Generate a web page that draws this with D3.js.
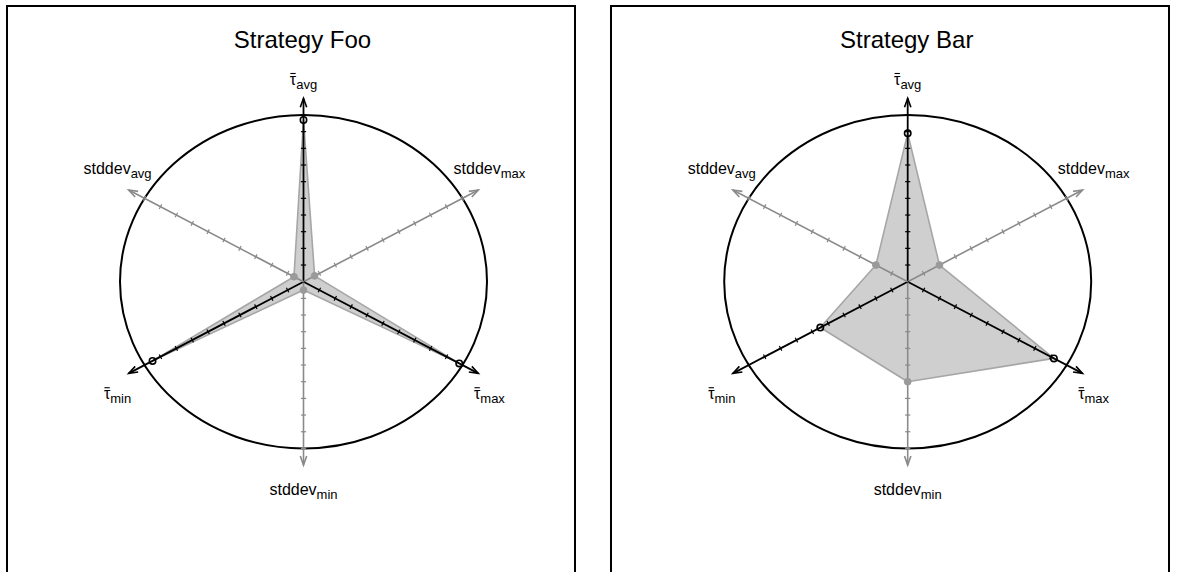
<!DOCTYPE html>
<html>
<head>
<meta charset="utf-8">
<script src="https://cdn.jsdelivr.net/npm/d3@7"></script>
<style>
  html, body { margin: 0; padding: 0; background: #fff; }
  svg { display: block; font-family: "Liberation Sans", Arial, sans-serif; }
</style>
</head>
<body>
<svg id="chart" width="1177" height="572"></svg>
<script>
// Radar axes, clockwise from the top
const axisBase = ["τ", "stddev", "τ", "stddev", "τ", "stddev"];
const axisSub = ["avg", "max", "max", "min", "min", "avg"];
const axisKind = ["tau", "sd", "tau", "sd", "tau", "sd"];
const axisAngleDeg = [90, 30, -30, -90, -150, 150];

// Strategies and their normalised scores (same order as the axes)
const strategyNames = ["Strategy Foo", "Strategy Bar"];
const fooValues = [0.97, 0.07, 0.98, 0.05, 0.95, 0.06];
const barValues = [0.89, 0.20, 0.92, 0.60, 0.55, 0.20];
const strategyValues = [fooValues, barValues];

// Tick marks along each axis
const tickValues = [0.1, 0.2, 0.3, 0.4, 0.5, 0.6, 0.7, 0.8, 0.9, 1.0];

const svg = d3.select("#chart");

const panels = [
  { left: 7, width: 568, cx: 303.5 },
  { left: 611, width: 558, cx: 907.7 }
];
const cy = 281.7, rx = 183.5, ry = 166.7;
const axisLen = 1.1;

const tauColor = "#000000";
const sdColor = "#8a8a8a";

panels.forEach((p, i) => {
  const g = svg.append("g");
  const values = strategyValues[i];

  const x = d3.scaleLinear().domain([-1, 1]).range([p.cx - rx, p.cx + rx]);
  const y = d3.scaleLinear().domain([-1, 1]).range([cy + ry, cy - ry]);
  const rad = a => a * Math.PI / 180;
  const px = (r, a) => x(r * Math.cos(rad(a)));
  const py = (r, a) => y(r * Math.sin(rad(a)));

  // panel frame
  g.append("rect")
    .attr("x", p.left).attr("y", 6)
    .attr("width", p.width).attr("height", 640)
    .attr("fill", "none").attr("stroke", "#000").attr("stroke-width", 2);

  // title
  g.append("text")
    .attr("x", p.cx - 1).attr("y", 48)
    .attr("text-anchor", "middle")
    .attr("font-size", 24)
    .text(strategyNames[i]);

  // unit circle
  g.append("ellipse")
    .attr("cx", x(0)).attr("cy", y(0))
    .attr("rx", x(1) - x(0)).attr("ry", y(0) - y(1))
    .attr("fill", "none").attr("stroke", "#000").attr("stroke-width", 2);

  // score polygon
  const pts = values.map((v, k) => [px(v, axisAngleDeg[k]), py(v, axisAngleDeg[k])]);
  g.append("path")
    .attr("d", d3.line()(pts) + "Z")
    .attr("fill", "#cfcfcf").attr("stroke", "#a6a6a6").attr("stroke-width", 1.6)
    .attr("stroke-linejoin", "round");

  // axes with ticks and arrow heads
  axisAngleDeg.forEach((a, k) => {
    const col = axisKind[k] === "tau" ? tauColor : sdColor;
    const x0 = x(0), y0 = y(0);
    const x1 = px(axisLen, a), y1 = py(axisLen, a);
    g.append("line")
      .attr("x1", x0).attr("y1", y0).attr("x2", x1).attr("y2", y1)
      .attr("stroke", col).attr("stroke-width", axisKind[k] === "tau" ? 1.8 : 1.6);

    const dx = x1 - x0, dy = y1 - y0, len = Math.hypot(dx, dy);
    const ux = dx / len, uy = dy / len;
    const nx = -uy, ny = ux;

    g.selectAll(null).data(tickValues).enter().append("line")
      .attr("x1", t => px(t, a) + nx * 2.6).attr("y1", t => py(t, a) + ny * 2.6)
      .attr("x2", t => px(t, a) - nx * 2.6).attr("y2", t => py(t, a) - ny * 2.6)
      .attr("stroke", col).attr("stroke-width", 1.2);

    // arrow head
    const hl = 9, hw = 3.2;
    const bx = x1 - ux * hl, by = y1 - uy * hl;
    g.append("path")
      .attr("d", `M${bx + nx * hw},${by + ny * hw}L${x1},${y1}L${bx - nx * hw},${by - ny * hw}`)
      .attr("fill", "none").attr("stroke", col).attr("stroke-width", 1.6)
      .attr("stroke-linejoin", "miter");

    // axis label
    const s = Math.sin(rad(a)), c = Math.cos(rad(a));
    const lx = x(1.17 * c);
    const ly = y(s * (Math.abs(s) > 0.9 ? (s > 0 ? 1.21 : 1.25) : 1.35));
    const t = g.append("text")
      .attr("x", lx).attr("y", ly + 5)
      .attr("text-anchor", "middle")
      .attr("font-size", 16).attr("fill", "#000");
    t.append("tspan").text(axisBase[k]);
    t.append("tspan").attr("font-size", 13).attr("dy", 4).text(axisSub[k]);

    // bar over the tau symbol (mean)
    if (axisBase[k] === "τ") {
      const ext = t.node().getExtentOfChar(0);
      const barY = ly + 5 - 11.5;
      g.append("line")
        .attr("x1", ext.x + 0.5).attr("x2", ext.x + ext.width - 0.5)
        .attr("y1", barY).attr("y2", barY)
        .attr("stroke", "#000").attr("stroke-width", 1.1);
    }
  });

  // value markers
  values.forEach((v, k) => {
    const a = axisAngleDeg[k];
    if (axisKind[k] === "tau") {
      g.append("circle")
        .attr("cx", px(v, a)).attr("cy", py(v, a)).attr("r", 3.2)
        .attr("fill", "none").attr("stroke", "#000").attr("stroke-width", 1.6);
    } else {
      g.append("circle")
        .attr("cx", px(v, a)).attr("cy", py(v, a)).attr("r", 3.4)
        .attr("fill", "#9a9a9a").attr("stroke", "#9a9a9a").attr("stroke-width", 1);
    }
  });
});
</script>
</body>
</html>
